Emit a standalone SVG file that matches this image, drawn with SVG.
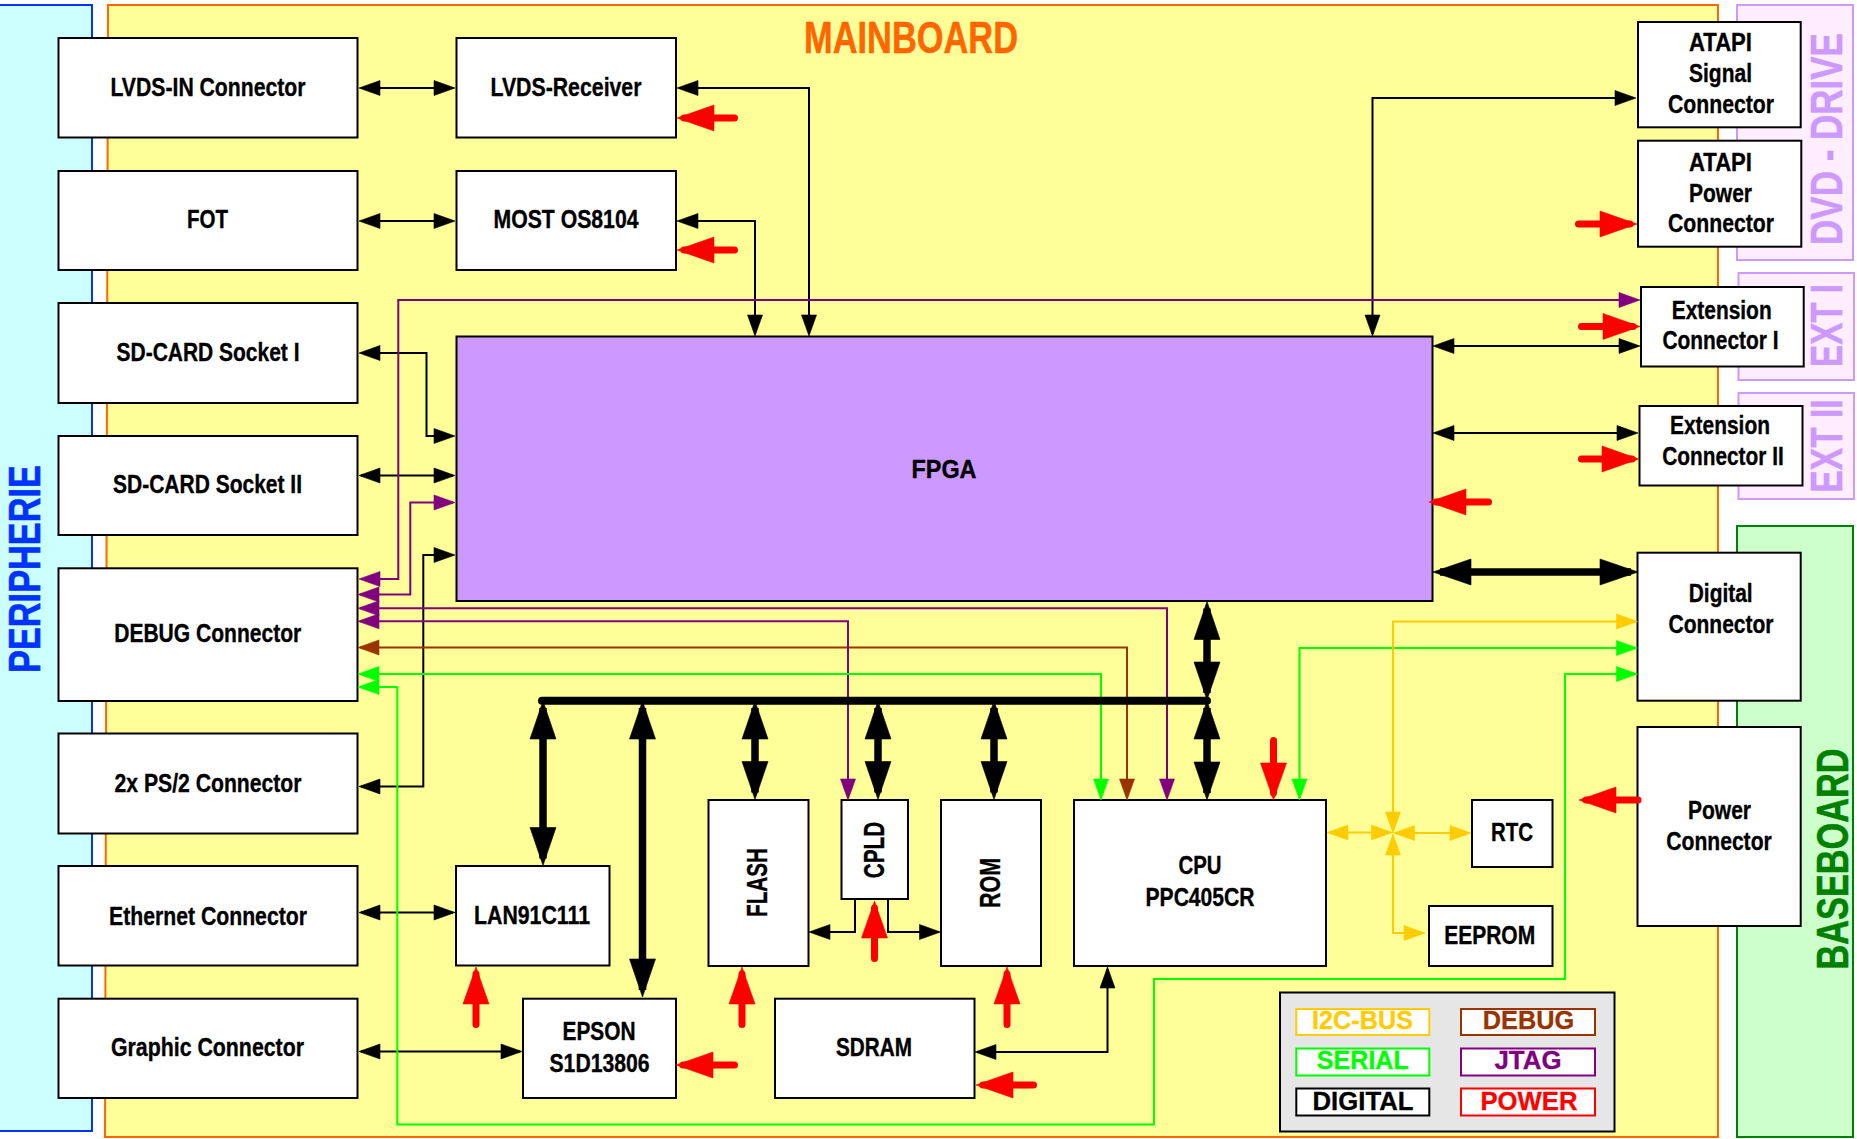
<svg xmlns="http://www.w3.org/2000/svg" width="1857" height="1139" viewBox="0 0 1857 1139">
<style>
text{font-family:"Liberation Sans",Arial,sans-serif;font-weight:bold;text-anchor:middle;fill:#000}
.n rect{fill:#fff;stroke:#000;stroke-width:2}
.n text{stroke:#000;stroke-width:.35}
.f{font-size:25px}
.c path{fill:none;stroke-width:2}
.k{stroke:#000;marker-start:url(#mk);marker-end:url(#mk)}
.ko{stroke:#000;marker-end:url(#mk)}
.p{stroke:#800080;marker-start:url(#mp);marker-end:url(#mp)}
.b{stroke:#993300;marker-start:url(#mb);marker-end:url(#mb)}
.g{stroke:#00FF00;marker-start:url(#mg);marker-end:url(#mg)}
.y{stroke:#FFCC00;marker-start:url(#my);marker-end:url(#my)}
.c path.t{stroke:#000;stroke-width:7.5;marker-start:url(#mt);marker-end:url(#mt)}
.c path.r{stroke:#FF0000;stroke-width:7;stroke-linecap:round;marker-end:url(#mr)}
.c path.bus{stroke:#000;stroke-width:8;stroke-linecap:round}
.lg rect{stroke-width:2}
.lg text{font-size:26px;stroke-width:.3}
.pt{font-size:44px;stroke-width:.5}
</style>
<defs>
<marker id="mk" markerUnits="userSpaceOnUse" markerWidth="21" markerHeight="15" refX="19" refY="7.5" orient="auto-start-reverse" overflow="visible"><path d="M0,0L21,7.5L0,15z" fill="#000" stroke="#000" stroke-width=".6"/></marker>
<marker id="mp" markerUnits="userSpaceOnUse" markerWidth="21" markerHeight="15" refX="19" refY="7.5" orient="auto-start-reverse" overflow="visible"><path d="M0,0L21,7.5L0,15z" fill="#800080" stroke="#800080" stroke-width=".6"/></marker>
<marker id="mb" markerUnits="userSpaceOnUse" markerWidth="21" markerHeight="15" refX="19" refY="7.5" orient="auto-start-reverse" overflow="visible"><path d="M0,0L21,7.5L0,15z" fill="#993300" stroke="#993300" stroke-width=".6"/></marker>
<marker id="mg" markerUnits="userSpaceOnUse" markerWidth="21" markerHeight="15" refX="19" refY="7.5" orient="auto-start-reverse" overflow="visible"><path d="M0,0L21,7.5L0,15z" fill="#00FF00" stroke="#00FF00" stroke-width=".6"/></marker>
<marker id="my" markerUnits="userSpaceOnUse" markerWidth="21" markerHeight="15" refX="19" refY="7.5" orient="auto-start-reverse" overflow="visible"><path d="M0,0L21,7.5L0,15z" fill="#FFCC00" stroke="#FFCC00" stroke-width=".6"/></marker>
<marker id="mt" markerUnits="userSpaceOnUse" markerWidth="38" markerHeight="26" refX="31" refY="13" orient="auto-start-reverse" overflow="visible"><path d="M0,0L38,13L0,26z" fill="#000" stroke="#000" stroke-width=".6"/></marker>
<marker id="mr" markerUnits="userSpaceOnUse" markerWidth="37" markerHeight="26" refX="30" refY="13" orient="auto" overflow="visible"><path d="M0,0L37,13L0,26z" fill="#FF0000" stroke="#FF0000" stroke-width=".6"/></marker>
</defs>
<rect width="1857" height="1139" fill="#fff"/>
<g id="panels">
<rect id="peripherie-panel" x="-3" y="5" width="95" height="1126" fill="#CCFFFF" stroke="#0033FF" stroke-width="2"/>
<path id="mainboard-panel" d="M108,5H1718V1137H105z" fill="#FFFF99" stroke="#FF6600" stroke-width="2"/>
<rect id="dvd-panel" x="1737" y="5" width="116" height="255" fill="#FFEEFF" stroke="#CC99FF" stroke-width="2"/>
<rect id="ext1-panel" x="1738.5" y="273" width="115.5" height="107" fill="#FFEEFF" stroke="#CC99FF" stroke-width="2"/>
<rect id="ext2-panel" x="1738.5" y="393" width="115.5" height="106" fill="#FFEEFF" stroke="#CC99FF" stroke-width="2"/>
<rect id="baseboard-panel" x="1737" y="526" width="116" height="611" fill="#CCFFCC" stroke="#008000" stroke-width="2"/>
<text class="pt" transform="translate(40,569) rotate(-90)" textLength="208" lengthAdjust="spacingAndGlyphs" style="fill:#0033FF;stroke:#0033FF">PERIPHERIE</text>
<text class="pt" x="911" y="52.5" textLength="214" lengthAdjust="spacingAndGlyphs" style="fill:#FF6600;stroke:#FF6600">MAINBOARD</text>
<text class="pt" transform="translate(1842,139) rotate(-90) scale(.795,1)" style="fill:#CC99FF;stroke:#CC99FF">DVD - DRIVE</text>
<text class="pt" transform="translate(1842,325.5) rotate(-90)" textLength="83" lengthAdjust="spacingAndGlyphs" style="fill:#CC99FF;stroke:#CC99FF">EXT I</text>
<text class="pt" transform="translate(1842,446) rotate(-90)" textLength="93" lengthAdjust="spacingAndGlyphs" style="fill:#CC99FF;stroke:#CC99FF">EXT II</text>
<text class="pt" transform="translate(1847.5,859) rotate(-90)" textLength="221" lengthAdjust="spacingAndGlyphs" style="fill:#008000;stroke:#008000">BASEBOARD</text>
</g>
<g id="lvds-in" class="n"><rect x="58.5" y="38" width="299" height="99.5"/><text class="f" x="208" y="95.7" textLength="195" lengthAdjust="spacingAndGlyphs">LVDS-IN Connector</text></g>
<g id="lvds-rx" class="n"><rect x="456.5" y="38" width="219.5" height="99.5"/><text class="f" x="566" y="95.7" textLength="151" lengthAdjust="spacingAndGlyphs">LVDS-Receiver</text></g>
<g id="fot" class="n"><rect x="58.5" y="171" width="299" height="99"/><text class="f" x="207.5" y="228" textLength="41" lengthAdjust="spacingAndGlyphs">FOT</text></g>
<g id="most" class="n"><rect x="456.5" y="171" width="219.5" height="99"/><text class="f" x="566" y="228" textLength="145" lengthAdjust="spacingAndGlyphs">MOST OS8104</text></g>
<g id="sd1" class="n"><rect x="58.5" y="303" width="299" height="100"/><text class="f" x="208" y="360.7" textLength="183" lengthAdjust="spacingAndGlyphs">SD-CARD Socket I</text></g>
<g id="sd2" class="n"><rect x="58.5" y="436" width="299" height="99"/><text class="f" x="207.5" y="493" textLength="189" lengthAdjust="spacingAndGlyphs">SD-CARD Socket II</text></g>
<g id="debug" class="n"><rect x="58.5" y="568.3" width="299" height="132.7"/><text class="f" x="207.7" y="641.7" textLength="187" lengthAdjust="spacingAndGlyphs">DEBUG Connector</text></g>
<g id="ps2" class="n"><rect x="58.5" y="733.5" width="299" height="100"/><text class="f" x="208" y="792" textLength="187" lengthAdjust="spacingAndGlyphs">2x PS/2 Connector</text></g>
<g id="ethernet" class="n"><rect x="58.5" y="866" width="299" height="99.5"/><text class="f" x="208" y="925" textLength="198" lengthAdjust="spacingAndGlyphs">Ethernet Connector</text></g>
<g id="graphic" class="n"><rect x="58.5" y="998.7" width="299" height="99.3"/><text class="f" x="207.5" y="1056" textLength="193" lengthAdjust="spacingAndGlyphs">Graphic Connector</text></g>
<g id="fpga" class="n"><rect x="456.5" y="336.5" width="976" height="264.5" style="fill:#CC99FF"/><text class="f" x="944" y="478" textLength="65" lengthAdjust="spacingAndGlyphs">FPGA</text></g>
<g id="lan" class="n"><rect x="456" y="866" width="153.5" height="99.5"/><text class="f" x="532" y="923.5" textLength="116" lengthAdjust="spacingAndGlyphs">LAN91C111</text></g>
<g id="epson" class="n"><rect x="523" y="998.7" width="153" height="99.3"/><text class="f" x="599" y="1040" textLength="73" lengthAdjust="spacingAndGlyphs">EPSON</text><text class="f" x="599.5" y="1071.5" textLength="100" lengthAdjust="spacingAndGlyphs">S1D13806</text></g>
<g id="flash" class="n"><rect x="708.5" y="800" width="100" height="166"/><text transform="translate(767,882.5) rotate(-90)" font-size="29" textLength="69" lengthAdjust="spacingAndGlyphs">FLASH</text></g>
<g id="cpld" class="n"><rect x="841.5" y="800" width="66.5" height="99"/><text transform="translate(883.5,850) rotate(-90)" font-size="29" textLength="56.5" lengthAdjust="spacingAndGlyphs">CPLD</text></g>
<g id="rom" class="n"><rect x="941" y="800" width="100" height="166"/><text transform="translate(1000,883) rotate(-90)" font-size="29" textLength="50" lengthAdjust="spacingAndGlyphs">ROM</text></g>
<g id="sdram" class="n"><rect x="775" y="998.7" width="199.5" height="99.3"/><text class="f" x="874" y="1055.5" textLength="76" lengthAdjust="spacingAndGlyphs">SDRAM</text></g>
<g id="cpu" class="n"><rect x="1074" y="800" width="252" height="166"/><text class="f" x="1200" y="874" textLength="43" lengthAdjust="spacingAndGlyphs">CPU</text><text class="f" x="1200" y="905.5" textLength="109" lengthAdjust="spacingAndGlyphs">PPC405CR</text></g>
<g id="rtc" class="n"><rect x="1472" y="800" width="80.5" height="67"/><text class="f" x="1512" y="841" textLength="42" lengthAdjust="spacingAndGlyphs">RTC</text></g>
<g id="eeprom" class="n"><rect x="1429" y="906" width="123.5" height="60"/><text class="f" x="1489.7" y="944" textLength="91" lengthAdjust="spacingAndGlyphs">EEPROM</text></g>
<g id="digital" class="n"><rect x="1637.5" y="552.7" width="163.2" height="148"/><text class="f" x="1720.7" y="601.7" textLength="64" lengthAdjust="spacingAndGlyphs">Digital</text><text class="f" x="1721" y="632.7" textLength="105" lengthAdjust="spacingAndGlyphs">Connector</text></g>
<g id="power" class="n"><rect x="1637.5" y="727" width="163.2" height="199"/><text class="f" x="1719.5" y="819" textLength="63" lengthAdjust="spacingAndGlyphs">Power</text><text class="f" x="1719" y="850" textLength="105.5" lengthAdjust="spacingAndGlyphs">Connector</text></g>
<g id="atapi-signal" class="n"><rect x="1638" y="22" width="162.7" height="105.3"/><text class="f" x="1720.5" y="51" textLength="63" lengthAdjust="spacingAndGlyphs">ATAPI</text><text class="f" x="1720.5" y="82" textLength="63" lengthAdjust="spacingAndGlyphs">Signal</text><text class="f" x="1721" y="113" textLength="106" lengthAdjust="spacingAndGlyphs">Connector</text></g>
<g id="atapi-power" class="n"><rect x="1638" y="140.7" width="163.3" height="106"/><text class="f" x="1720.5" y="171" textLength="63" lengthAdjust="spacingAndGlyphs">ATAPI</text><text class="f" x="1720.5" y="202" textLength="63" lengthAdjust="spacingAndGlyphs">Power</text><text class="f" x="1721" y="232" textLength="106" lengthAdjust="spacingAndGlyphs">Connector</text></g>
<g id="ext1" class="n"><rect x="1641" y="287" width="162.7" height="79.5"/><text class="f" x="1721.7" y="319" textLength="100" lengthAdjust="spacingAndGlyphs">Extension</text><text class="f" x="1720.5" y="348.5" textLength="116" lengthAdjust="spacingAndGlyphs">Connector I</text></g>
<g id="ext2" class="n"><rect x="1639.5" y="406" width="163" height="79.5"/><text class="f" x="1720" y="433.5" textLength="100" lengthAdjust="spacingAndGlyphs">Extension</text><text class="f" x="1723" y="464.5" textLength="121.5" lengthAdjust="spacingAndGlyphs">Connector II</text></g>
<g id="legend" class="lg">
<rect x="1280" y="992.5" width="334.5" height="139" fill="#E6E6E6" stroke="#000"/>
<rect x="1296.3" y="1009" width="133" height="26" fill="#fff" stroke="#FFCC00"/><text x="1362.5" y="1029" textLength="101" lengthAdjust="spacingAndGlyphs" style="fill:#FFCC00;stroke:#FFCC00">I2C-BUS</text>
<rect x="1461" y="1009" width="134" height="26" fill="#fff" stroke="#993300"/><text x="1528.5" y="1029" textLength="91.5" lengthAdjust="spacingAndGlyphs" style="fill:#993300;stroke:#993300">DEBUG</text>
<rect x="1296.3" y="1048.5" width="133" height="27" fill="#fff" stroke="#00FF00"/><text x="1362.8" y="1069" textLength="92" lengthAdjust="spacingAndGlyphs" style="fill:#00FF00;stroke:#00FF00">SERIAL</text>
<rect x="1461" y="1048.5" width="134" height="27" fill="#fff" stroke="#800080"/><text x="1528" y="1069" textLength="67" lengthAdjust="spacingAndGlyphs" style="fill:#800080;stroke:#800080">JTAG</text>
<rect x="1296.3" y="1088.5" width="133" height="27" fill="#fff" stroke="#000"/><text x="1363" y="1109.5" textLength="101" lengthAdjust="spacingAndGlyphs" style="stroke:#000">DIGITAL</text>
<rect x="1461" y="1088.5" width="134" height="27" fill="#fff" stroke="#FF0000"/><text x="1529" y="1109.5" textLength="97" lengthAdjust="spacingAndGlyphs" style="fill:#FF0000;stroke:#FF0000">POWER</text>
</g>
<g id="connectors" class="c">
<path class="k" d="M361,88H453"/>
<path class="k" d="M361,221H453"/>
<path class="k" d="M679,88H809V334"/>
<path class="k" d="M679,221H755V334"/>
<path class="k" d="M361,353H426.5V436H453"/>
<path class="k" d="M361,475.5H453"/>
<path class="k" d="M361,786.5H423.3V555H453"/>
<path class="k" d="M361,912.5H453"/>
<path class="k" d="M361,1051.5H520"/>
<path class="k" d="M977,1052H1107.5V969"/>
<path class="k" d="M1372.5,334V98H1634"/>
<path class="k" d="M1435,346H1638"/>
<path class="k" d="M1435,433H1636"/>
<path class="ko" d="M855,899V932H811"/>
<path class="ko" d="M888,899V932H938.5"/>
<path class="b" d="M360,647.5H1127V798"/>
<path class="p" d="M361,579H398.3V300H1638"/>
<path class="p" d="M360,594.5H410.3V502.5H453"/>
<path class="p" d="M360,608.3H1167V798"/>
<path class="p" d="M360,621.3H848V798"/>
<path class="g" d="M360,674H1101V798"/>
<path class="g" d="M360,687H397.3V1124.5H1154V979H1565V674H1635.5"/>
<path class="g" d="M1299.5,798V648H1635.5"/>
<path class="y" d="M1635.5,621.5H1393V831"/>
<path class="y" d="M1329,832.5H1390.5"/>
<path class="y" d="M1395.5,833H1469"/>
<path class="y" d="M1393,836V933H1423"/>
<path class="bus" d="M542,700.7H1207"/>
<path class="t" d="M1440,572H1631"/>
<path class="t" d="M1207,608.5V693"/>
<path class="t" d="M1207,708V793"/>
<path class="t" d="M543,708V858.5"/>
<path class="t" d="M642.5,708V990"/>
<path class="t" d="M755,708V792.5"/>
<path class="t" d="M878,708V792.5"/>
<path class="t" d="M994,708V792.5"/>
<path class="r" d="M734.5,118H684"/>
<path class="r" d="M734.5,250H684"/>
<path class="r" d="M1578.5,224H1630"/>
<path class="r" d="M1581.5,326.5H1633"/>
<path class="r" d="M1581.5,459H1632"/>
<path class="r" d="M1488.5,502H1436"/>
<path class="r" d="M1638,800H1586"/>
<path class="r" d="M1273.5,740.5V793"/>
<path class="r" d="M874.5,958.5V908"/>
<path class="r" d="M476,1024.5V974"/>
<path class="r" d="M742,1024.5V974"/>
<path class="r" d="M1007,1024.5V974"/>
<path class="r" d="M734.5,1065H683"/>
<path class="r" d="M1033.5,1085H983"/>
</g>
</svg>
